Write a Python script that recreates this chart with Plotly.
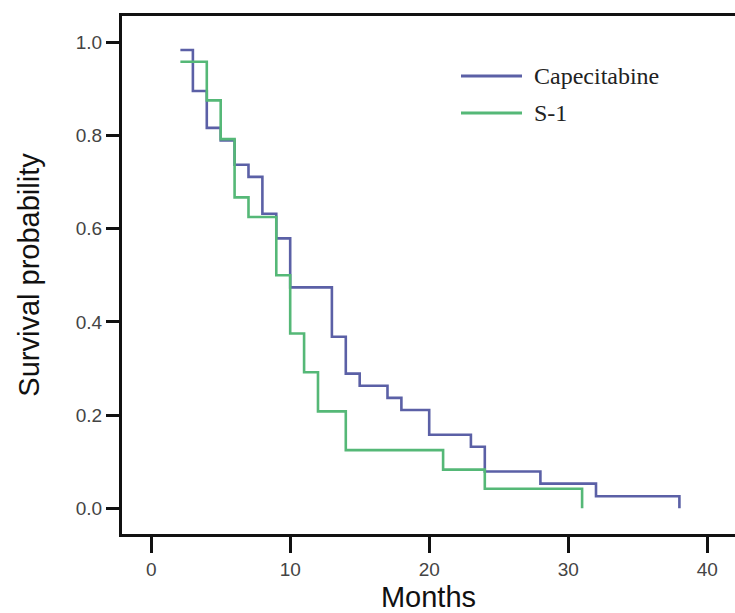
import plotly.graph_objects as go

# Kaplan-Meier step data
cape_months = [2.1, 3, 4, 5, 6, 7, 8, 9, 10, 13, 14, 15, 17, 18, 20, 23, 24, 28, 32, 38]
cape_surv = [0.983, 0.895, 0.816, 0.789, 0.737, 0.711, 0.632, 0.579, 0.474, 0.368,
             0.289, 0.263, 0.237, 0.211, 0.158, 0.132, 0.079, 0.053, 0.026, 0.0]

s1_months = [2.1, 4, 5, 6, 7, 9, 10, 11, 12, 14, 21, 24, 31]
s1_surv = [0.958, 0.875, 0.792, 0.667, 0.625, 0.5, 0.375, 0.292, 0.208, 0.125, 0.083, 0.042, 0.0]

series_names = ["Capecitabine", "S-1"]
series_colors = ["#5b60a6", "#55b877"]

x_ticks = [0, 10, 20, 30, 40]
y_ticks = [0.0, 0.2, 0.4, 0.6, 0.8, 1.0]

W, H = 735, 613
L, R, T, B = 122, 0, 16, 79
pw, ph = W - L - R, H - T - B

fig = go.Figure()
for xs, ys, name, col in [(cape_months, cape_surv, series_names[0], series_colors[0]),
                          (s1_months, s1_surv, series_names[1], series_colors[1])]:
    fig.add_trace(go.Scatter(x=xs, y=ys, mode="lines", line=dict(shape="hv", color=col, width=2.6),
                             name=name, showlegend=False))

# manual legend (long line samples like the reference)
def px2paper(xp, yp):
    return (xp - L) / pw, (H - B - yp) / ph

leg_rows = [76, 113]
for name, col, yp in zip(series_names, series_colors, leg_rows):
    x0, y0 = px2paper(461, yp)
    x1, _ = px2paper(522, yp)
    fig.add_shape(type="line", xref="paper", yref="paper", x0=x0, x1=x1, y0=y0, y1=y0,
                  line=dict(color=col, width=3))
    tx, _ = px2paper(532, yp)
    fig.add_annotation(xref="paper", yref="paper", x=tx, y=y0, text=name, showarrow=False,
                       xanchor="left", yanchor="middle",
                       font=dict(family="Liberation Serif", size=24, color="#222"))

fig.update_layout(
    width=W, height=H,
    margin=dict(l=L, r=R, t=T, b=B),
    paper_bgcolor="white", plot_bgcolor="white",
    font=dict(family="Liberation Sans", color="#333"),
)
fig.update_xaxes(
    range=[-2.1, 42.0], tickvals=x_ticks, ticktext=[str(v) for v in x_ticks],
    showgrid=False, zeroline=False,
    showline=True, linecolor="#111", linewidth=3, mirror=True,
    ticks="outside", ticklen=16, tickwidth=2.5, tickcolor="#111",
    tickfont=dict(family="Liberation Sans", size=19, color="#444"),
    title=dict(text="Months", font=dict(family="Liberation Sans", size=29, color="#111"), standoff=10),
)
fig.update_yaxes(
    range=[-0.055, 1.056], tickvals=y_ticks, ticktext=[f"{v:.1f}" for v in y_ticks],
    showgrid=False, zeroline=False,
    showline=True, linecolor="#111", linewidth=3, mirror=False,
    ticks="outside", ticklen=13, tickwidth=2.5, tickcolor="#111",
    tickfont=dict(family="Liberation Sans", size=19, color="#444"),
    title=dict(text="Survival probability", font=dict(family="Liberation Sans", size=29, color="#111"), standoff=28),
)

fig.write_html("out.html", config={"displayModeBar": False},
               post_script="document.body.style.margin='0';document.body.style.overflow='hidden';")
